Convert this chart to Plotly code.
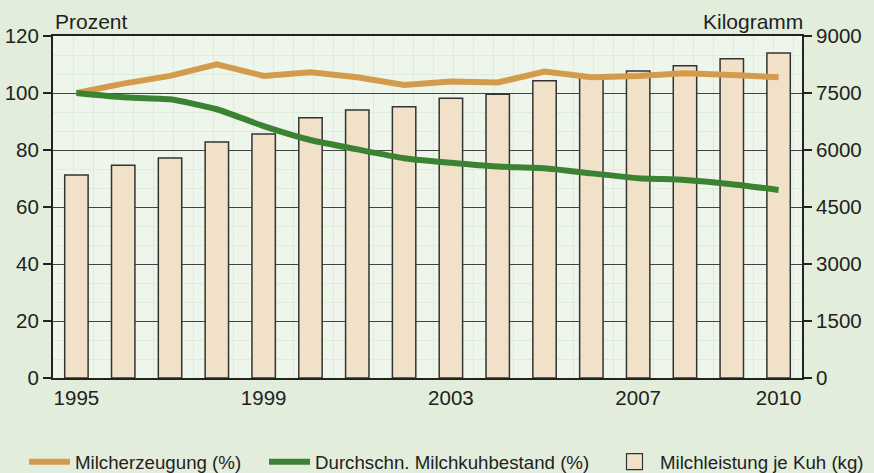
import plotly.graph_objects as go

years = list(range(1995, 2011))
milchleistung_kg = [5340, 5600, 5790, 6210, 6420, 6850, 7050, 7140, 7360, 7470, 7820, 7950, 8080, 8220, 8400, 8550]
milcherzeugung_pct = [100, 103.3, 106.0, 110.1, 106.0, 107.3, 105.5, 102.8, 104.0, 103.7, 107.5, 105.5, 106.0, 106.9, 106.3, 105.5]
bestand_pct = [100, 98.5, 97.8, 94.3, 88.4, 83.5, 80.2, 77.1, 75.5, 74.2, 73.6, 71.8, 70.1, 69.5, 68.0, 66.0]
x_tick_labels = [1995, 1999, 2003, 2007, 2010]
left_ticks = [0, 20, 40, 60, 80, 100, 120]
right_ticks = [0, 1500, 3000, 4500, 6000, 7500, 9000]

W, H = 874, 473
FONT = "Liberation Sans, Arial, sans-serif"
TXT = "#222222"
ORANGE = "#d49b4c"
GREEN = "#3b8232"
BAR = "#f1e1c8"

fig = go.Figure()
fig.add_trace(go.Bar(
    x=years, y=milchleistung_kg, name="Milchleistung je Kuh (kg)",
    marker=dict(color=BAR, line=dict(color="#333333", width=1.5)),
    width=0.5, yaxis="y", showlegend=False,
))
# legend proxy for the bars (larger square symbol)
fig.add_trace(go.Scatter(
    x=[None], y=[None], name="Milchleistung je Kuh (kg)", mode="markers",
    marker=dict(symbol="square", size=22, color=BAR, line=dict(color="#333333", width=1.2)),
    yaxis="y", legend="legend3",
))
fig.add_trace(go.Scatter(
    x=years, y=milcherzeugung_pct, name="Milcherzeugung (%)", mode="lines",
    line=dict(color=ORANGE, width=6), yaxis="y2", legend="legend",
))
fig.add_trace(go.Scatter(
    x=years, y=bestand_pct, name="Durchschn. Milchkuhbestand (%)", mode="lines",
    line=dict(color=GREEN, width=6, shape="spline", smoothing=0.5), yaxis="y2", legend="legend2",
))

def leg(xpx, iw=41):
    return dict(orientation="h", x=xpx / W, xref="container", y=11 / H, yref="container",
                xanchor="left", yanchor="middle", font=dict(size=18.7, color=TXT, family=FONT),
                itemwidth=iw, bgcolor="rgba(0,0,0,0)")

fig.update_layout(
    width=W, height=H, autosize=False,
    margin=dict(l=53, r=72, t=36, b=95, pad=0, autoexpand=False),
    paper_bgcolor="#e2eedb",
    plot_bgcolor="#eef6eb",
    font=dict(family=FONT, size=20.5, color=TXT),
    showlegend=True,
    legend=leg(24), legend2=leg(264), legend3=leg(609),
    xaxis=dict(
        range=[1994.5, 2010.5], tickvals=x_tick_labels, ticks="", automargin=False,
        showline=True, linecolor="#222222", linewidth=2, mirror=True,
        showgrid=False, zeroline=False,
        minor=dict(dtick=0.4274, tick0=1994.5, showgrid=True, gridcolor="#dfedd8", gridwidth=1, ticks=""),
        tickfont=dict(size=20.5),
    ),
    yaxis=dict(
        side="right", range=[0, 9000], tickvals=right_ticks, automargin=False,
        ticks="outside", ticklen=8, tickcolor="#222222", tickwidth=1.5,
        showline=True, linecolor="#222222", linewidth=2,
        showgrid=True, gridcolor="#444444", gridwidth=1.2, zeroline=False,
        minor=dict(dtick=500, showgrid=True, gridcolor="#dfedd8", gridwidth=1),
        tickfont=dict(size=20.5),
    ),
    yaxis2=dict(
        side="left", overlaying="y", range=[0, 120], tickvals=left_ticks, automargin=False,
        ticks="outside", ticklen=8, tickcolor="#222222", tickwidth=1.5,
        showline=True, linecolor="#222222", linewidth=2,
        showgrid=False, zeroline=False,
        tickfont=dict(size=20.5),
    ),
    annotations=[
        dict(text="Prozent", x=0, xref="paper", y=1, yref="paper",
             xanchor="left", yanchor="bottom", yshift=1, showarrow=False,
             font=dict(size=21, color=TXT)),
        dict(text="Kilogramm", x=1, xref="paper", y=1, yref="paper",
             xanchor="right", yanchor="bottom", yshift=1, xshift=3, showarrow=False,
             font=dict(size=21, color=TXT)),
    ],
)

fig.write_html("out.html", config={"displayModeBar": False},
               post_script="document.body.style.margin='0px';")
